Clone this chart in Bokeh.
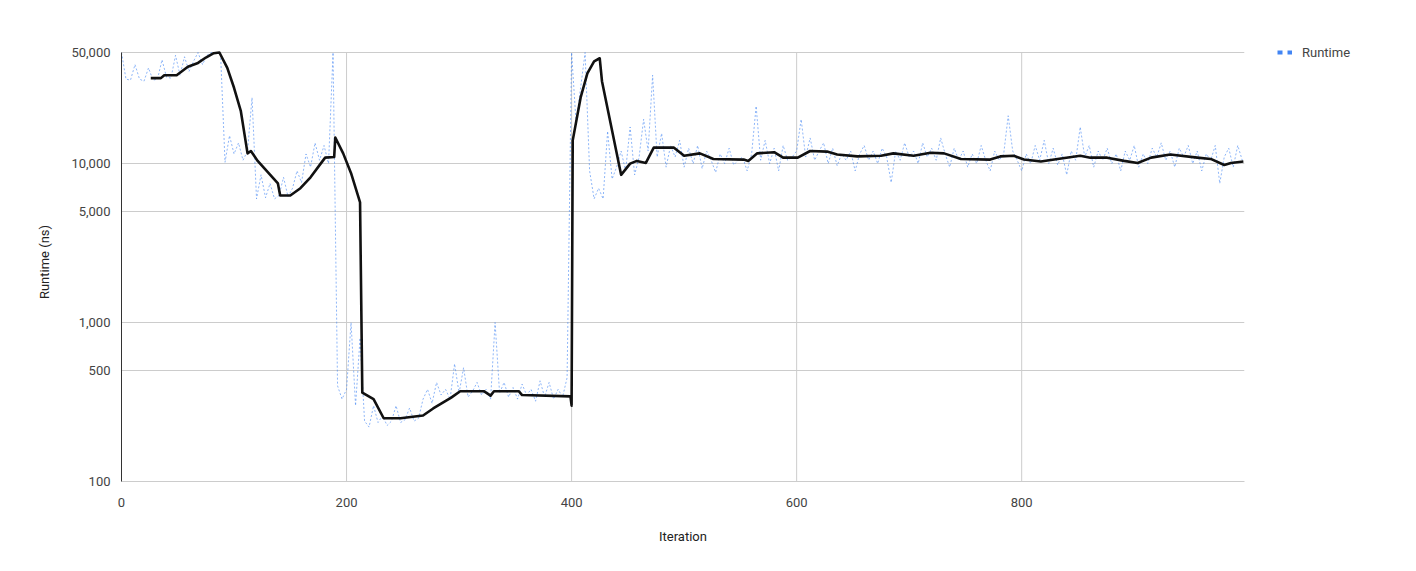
from bokeh.plotting import figure
from bokeh.layouts import row
from bokeh.models import (Range1d, FixedTicker, NumeralTickFormatter, Legend,
                          LegendItem, ColumnDataSource)
from bokeh.embed import file_html
from bokeh.resources import INLINE

# ---------------- data ----------------
# raw runtime samples (ns), one every 4 iterations starting at 0
# (values that run off the top of the chart are read as 50,000)
raw_step = 4
raw_runtime = [
    50000, 34000, 33500, 42000, 34000, 33000, 40000, 33500, 34000, 45000,   # 0-36
    35000, 34500, 48000, 36000, 47000, 38000, 44000, 50000, 42000, 48000,   # 40-76
    50000, 50000, 50000, 10200, 15000, 11500, 13500, 10500, 12000, 26000,   # 80-116
    6000, 8500, 6100, 7500, 6000, 6300, 8200, 6200, 7000, 9000,             # 120-156
    7600, 11500, 9500, 13500, 10500, 13000, 10000, 50000, 400, 330,         # 160-196
    380, 1000, 300, 800, 240, 220, 300, 235, 260, 225,                      # 200-236
    240, 300, 235, 245, 290, 240, 250, 330, 380, 310,                       # 240-276
    420, 350, 380, 330, 550, 360, 520, 340, 370, 420,                       # 280-316
    350, 380, 330, 1000, 360, 420, 340, 390, 330, 410,                      # 320-356
    350, 380, 320, 430, 340, 420, 330, 380, 340, 450,                       # 360-396
    50000, 18000, 30000, 50000, 9000, 6000, 7000, 6000, 16000, 8000,        # 400-436
    9500, 12000, 9000, 17000, 8500, 11000, 19000, 12000, 36000, 11000,      # 440-476
    15500, 9500, 13000, 11000, 14000, 9500, 12500, 10000, 13000, 9300,      # 480-516
    12000, 10500, 8800, 11500, 10000, 12500, 9800, 10500, 11000, 9000,      # 520-556
    11500, 23000, 10500, 14000, 10000, 12500, 9000, 13000, 10500, 11000,    # 560-596
    12000, 19000, 11000, 14500, 10500, 12000, 13500, 10000, 12500, 9700,    # 600-636
    11500, 10500, 12000, 9000, 11500, 13000, 10500, 12000, 10000, 12500,    # 640-676
    11000, 7600, 12000, 10500, 13500, 11000, 12000, 10000, 13500, 11000,    # 680-716
    12500, 10500, 14500, 11500, 9500, 12500, 10500, 12000, 9500, 11500,     # 720-756
    10000, 13000, 10500, 9000, 12000, 10500, 11500, 20000, 12000, 10500,    # 760-796
    9000, 11500, 10000, 13000, 10500, 14000, 10000, 12500, 9800, 11500,     # 800-836
    8500, 12000, 10500, 17000, 11000, 13000, 9500, 12000, 10500, 12500,     # 840-876
    10000, 11500, 9000, 12000, 10500, 13000, 9500, 11500, 10000, 12500,     # 880-916
    11000, 13500, 10500, 12000, 9500, 12500, 11000, 13000, 10000, 12000,    # 920-956
    9000, 11500, 10500, 13000, 7500, 11000, 12500, 9500, 13000, 10500,      # 960-996
]
raw_iteration = list(range(0, raw_step * len(raw_runtime), raw_step))

# smoothed trend (black line)
trend_iteration = [
    26, 35, 38, 49, 59, 68, 75, 82, 87, 94, 100, 106, 112, 115, 121, 139, 141,
    150, 159, 168, 177, 181, 189, 190, 197, 204, 212, 214, 224, 233, 248, 268,
    277, 293, 301, 322, 328, 331, 353, 356, 399, 400, 401, 408, 414, 420, 425,
    427, 444, 452, 458, 466, 473, 491, 500, 514, 526, 553, 557, 565, 580, 588,
    601, 612, 627, 636, 654, 675, 686, 704, 719, 731, 746, 772, 781, 793, 802,
    817, 832, 852, 861, 876, 891, 903, 915, 932, 956, 968, 980, 986, 997,
]
trend_runtime = [
    34500, 34500, 36000, 36000, 40700, 43000, 46500, 49500, 50000, 40000,
    30000, 21500, 11600, 12000, 10400, 7500, 6300, 6300, 7000, 8200, 10000,
    10900, 11000, 14600, 11600, 8700, 5700, 363, 330, 250, 250, 260, 288, 337,
    370, 370, 347, 370, 370, 350, 343, 300, 14000, 26000, 37000, 44000, 46000,
    33000, 8500, 10000, 10400, 10100, 12600, 12600, 11200, 11600, 10700,
    10600, 10400, 11600, 11800, 10900, 10900, 12000, 11900, 11400, 11100,
    11200, 11600, 11200, 11700, 11600, 10700, 10600, 11100, 11200, 10600,
    10300, 10700, 11200, 10900, 10900, 10400, 10100, 10900, 11400, 10900,
    10700, 9800, 10100, 10300,
]

y_ticks = [100, 500, 1000, 5000, 10000, 50000]
x_ticks = [0, 200, 400, 600, 800]
series_name = "Runtime"

# ---------------- layout constants ----------------
FONT = "Roboto"
Y_MIN, Y_MAX = 100, 50000      # chart area
Y_VIEW_MAX = 57800             # frame reaches 10px above the chart area
X_MAX = 998
H = 560

p = figure(width=1260, height=H,
           x_range=Range1d(0, X_MAX), y_range=Range1d(Y_MIN, Y_VIEW_MAX),
           y_axis_type="log", output_backend="svg", toolbar_location=None,
           min_border_left=121, min_border_right=16,
           min_border_top=42, min_border_bottom=79)
p.outline_line_color = None
p.background_fill_color = "white"
p.border_fill_color = "white"

# gridlines
p.ygrid.ticker = FixedTicker(ticks=y_ticks)
p.ygrid.grid_line_color = "#cccccc"
p.ygrid.minor_grid_line_color = None
p.xgrid.grid_line_color = None
p.segment(x0=x_ticks, x1=x_ticks, y0=[Y_MIN] * len(x_ticks),
          y1=[Y_MAX] * len(x_ticks), line_color="#cccccc", line_width=1)

raw_src = ColumnDataSource(dict(x=raw_iteration, y=raw_runtime))
p.line("x", "y", source=raw_src, line_color="#4285f4", line_width=1,
       line_alpha=0.6, line_dash="2 2")

trend_src = ColumnDataSource(dict(x=trend_iteration, y=trend_runtime))
p.line("x", "y", source=trend_src, line_color="#111111", line_width=2.6,
       line_join="round")

# axes
p.xaxis.ticker = FixedTicker(ticks=x_ticks)
p.yaxis.ticker = FixedTicker(ticks=y_ticks)
p.yaxis.formatter = NumeralTickFormatter(format="0,0")
p.yaxis.bounds = (Y_MIN, Y_MAX)
for ax in (p.xaxis[0], p.yaxis[0]):
    ax.major_tick_line_color = None
    ax.minor_tick_line_color = None
    ax.major_label_text_font = FONT
    ax.major_label_text_font_size = "13px"
    ax.major_label_text_color = "#444444"
    ax.axis_label_text_font = FONT
    ax.axis_label_text_font_size = "13px"
    ax.axis_label_text_color = "#222222"
    ax.axis_label_text_font_style = "normal"
p.yaxis.axis_line_color = "#333333"
p.xaxis.axis_line_color = "#cccccc"
p.yaxis.major_label_standoff = 5
p.xaxis.major_label_standoff = 10
p.xaxis.axis_label = "Iteration"
p.yaxis.axis_label = "Runtime (ns)"
p.xaxis.axis_label_standoff = 19
p.yaxis.axis_label_standoff = 16

# ---------------- legend panel (separate small figure) ----------------
lg = figure(width=140, height=H, x_range=Range1d(0, 1), y_range=Range1d(0, 1),
            x_axis_location=None, y_axis_location=None,
            output_backend="svg", toolbar_location=None,
            min_border_left=17, min_border_right=0,
            min_border_top=42, min_border_bottom=0)
lg.outline_line_color = None
lg.xgrid.visible = False
lg.ygrid.visible = False
lg.border_fill_color = "white"
legend_r = lg.line(x=[float("nan")], y=[float("nan")], line_color="#4285f4",
                   line_width=4, line_dash="5 5")
legend = Legend(items=[LegendItem(label=series_name, renderers=[legend_r])],
                location="top_left", margin=0, padding=0,
                glyph_width=15, glyph_height=20, label_height=20,
                label_standoff=10,
                label_text_font=FONT, label_text_font_size="13px",
                label_text_color="#444444",
                background_fill_alpha=0, border_line_color=None)
lg.add_layout(legend, "center")

layout = row(p, lg, spacing=0)
open("out.html", "w").write(file_html(layout, INLINE))
